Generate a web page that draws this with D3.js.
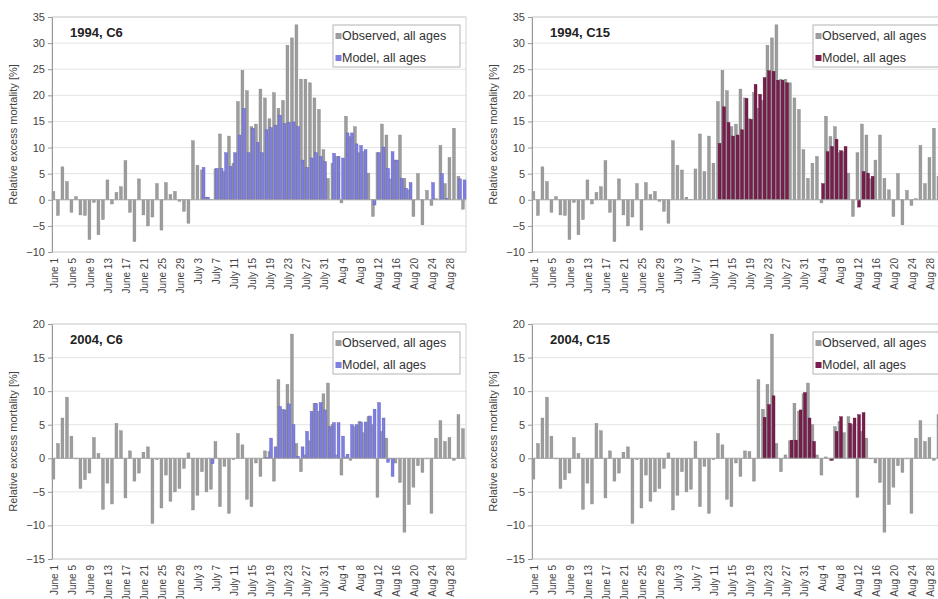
<!DOCTYPE html>
<html>
<head>
<meta charset="utf-8">
<script src="https://cdn.jsdelivr.net/npm/d3@7"></script>
<style>
  body { margin: 0; background: #fff; }
  svg { display: block; font-family: "Liberation Sans", Arial, sans-serif; }
</style>
</head>
<body>
<div id="chart"></div>
<script>
// Days run June 1 .. Aug 31 (92 days), a label on every 4th day
const tickLabels = [
  "June 1", "June 5", "June 9", "June 13", "June 17", "June 21", "June 25", "June 29",
  "July 3", "July 7", "July 11", "July 15", "July 19", "July 23", "July 27", "July 31",
  "Aug 4", "Aug 8", "Aug 12", "Aug 16", "Aug 20", "Aug 24", "Aug 28"
];
const dayCount = 92;
const _ = null;

// Observed excess mortality, all ages [%]
const observed1994 = [
  1.6, -3.0, 6.3, 3.5, -2.4, 0.6, -2.9, -3.0, -7.6, -0.5,
  -6.7, -3.8, 3.8, -0.8, 1.4, 2.5, 7.5, -2.4, -8.0, 4.0,
  -2.9, -5.0, -3.3, 3.1, -5.8, 3.3, 1.0, 1.6, -0.3, -2.2,
  -4.5, 11.3, 6.6, 5.7, 0.5, 0.1, 5.9, 12.6, 5.4, 12.2,
  7.0, 18.8, 24.8, 20.9, 14.0, 14.5, 21.2, 19.5, 15.5, 20.5,
  17.5, 19.0, 29.6, 31.0, 33.5, 23.1, 23.1, 22.4, 19.5, 17.3,
  9.6, 4.1, 7.0, 8.3, -0.6, 16.0, 12.1, 14.0, 9.0, 9.2,
  5.1, -3.2, 9.0, 14.5, 12.4, 4.0, 7.6, 12.4, 4.1, 1.9,
  -3.2, 5.0, -4.8, 1.8, -1.1, 0.2, 10.4, 3.1, 8.1, 13.7,
  4.5, -1.8
];
const observed2004 = [
  -3.1, 2.2, 6.0, 9.1, 3.3, -0.1, -4.5, -3.2, -2.2, 3.1,
  0.7, -7.6, -3.7, -6.8, 5.2, 4.1, -5.9, 1.1, -3.4, -2.2,
  0.9, 1.7, -9.7, -0.2, -7.4, -2.5, -6.4, -5.0, -4.5, -1.5,
  0.8, -7.7, -5.5, -2.0, -5.0, -4.6, 2.5, -7.2, -1.2, -8.2,
  -0.2, 3.7, 2.0, -6.1, -7.2, -0.7, -2.7, 1.1, 1.0, -3.4,
  11.7, 7.3, 11.0, 18.5, 2.2, -2.0, 0.5, 2.6, 8.2, 7.0,
  9.6, 11.2, 5.0, 0.5, -2.5, 0.2, -0.3, 4.7, 5.5, 3.8,
  6.2, 5.0, -5.8, 4.0, 3.0, -0.1, -0.7, -3.6, -11.0, -6.9,
  -4.3, -1.1, -2.1, -0.1, -8.2, 3.0, 5.6, 2.5, 3.1, -0.3,
  6.5, 4.4
];

// Model, all ages [%] (null = no model value that day)
const modelC6_1994 = [
  _, _, _, _, _, _, _, _, _, _,
  _, _, _, _, _, _, _, _, _, _,
  _, _, _, _, _, _, _, _, _, _,
  _, _, _, 6.2, 0.5, _, 6.0, 6.0, 9.0, 6.4,
  9.0, 12.4, 17.5, 9.0, 13.7, 11.0, 9.0, 13.4, 13.8, 14.3,
  16.2, 14.6, 14.8, 14.9, 14.0, 7.6, 6.2, 8.0, 9.0, 8.3,
  7.3, _, 8.9, 8.3, 8.0, 12.8, 12.8, 10.7, 10.4, 9.6,
  _, -1.0, 9.0, 10.1, 6.0, 9.2, 7.6, 4.1, 2.2, 3.3,
  _, _, _, _, 3.3, _, 5.0, 0.3, _, _,
  4.0, 3.8
];
const modelC15_1994 = [
  _, _, _, _, _, _, _, _, _, _,
  _, _, _, _, _, _, _, _, _, _,
  _, _, _, _, _, _, _, _, _, _,
  _, _, _, _, _, _, _, _, _, _,
  _, 10.8, 17.8, 14.8, 12.2, 12.4, 13.4, 19.4, 15.4, 22.1,
  20.2, 23.4, 24.7, 24.6, 22.9, 22.9, 22.4, _, _, _,
  _, _, _, _, 3.1, 9.2, 10.2, 11.6, 9.4, 10.2,
  _, _, -1.4, 5.4, 5.1, 4.5, _, _, _, _,
  _, _, _, _, _, _, _, _, _, _,
  _, _
];
const modelC6_2004 = [
  _, _, _, _, _, _, _, _, _, _,
  _, _, _, _, _, _, _, _, _, _,
  _, _, _, _, _, _, _, _, _, _,
  _, _, _, _, _, -0.8, _, _, _, _,
  _, _, _, _, _, _, _, 0.1, 3.0, 1.7,
  7.7, 7.2, 8.1, 5.0, 0.3, 1.7, 4.0, 7.0, 8.2, 8.3,
  7.2, 4.7, 5.3, 5.3, 3.3, 0.6, 5.0, 5.0, 5.4, 5.4,
  6.3, 7.3, 8.3, 6.0, -0.6, -2.7, _, _, _, _,
  _, _, _, _, _, _, _, _, _, _,
  _, _
];
const modelC15_2004 = [
  _, _, _, _, _, _, _, _, _, _,
  _, _, _, _, _, _, _, _, _, _,
  _, _, _, _, _, _, _, _, _, _,
  _, _, _, _, _, _, _, _, _, _,
  _, _, _, _, _, _, _, _, _, _,
  _, 6.1, 8.0, 9.3, _, _, _, 2.7, 2.7, 7.2,
  9.8, 6.0, 2.5, _, _, _, -0.3, 4.0, 6.2, _,
  5.2, 6.0, 6.5, 6.8, _, _, _, _, _, _,
  _, _, _, _, _, _, _, _, _, _,
  _, _
];

const yDomain1994 = [-10, 35];
const yDomain2004 = [-15, 20];

const obsColor = "#9d9d9d";
const c6Color = "#7f7fe2";
const c15Color = "#7a1d4e";

const panels = [
  { title: "1994, C6",  obs: observed1994, model: modelC6_1994,  color: c6Color,  stroke: "#5b5bb8", yd: yDomain1994, left: 52,  top: 17,  bottom: 252 },
  { title: "1994, C15", obs: observed1994, model: modelC15_1994, color: c15Color, stroke: "#561234", yd: yDomain1994, left: 532, top: 17,  bottom: 252 },
  { title: "2004, C6",  obs: observed2004, model: modelC6_2004,  color: c6Color,  stroke: "#5b5bb8", yd: yDomain2004, left: 52,  top: 324, bottom: 559 },
  { title: "2004, C15", obs: observed2004, model: modelC15_2004, color: c15Color, stroke: "#561234", yd: yDomain2004, left: 532, top: 324, bottom: 559 }
];

const width = 938, height = 599;
const plotW = 414;

const svg = d3.select("#chart")
  .append("svg")
  .attr("width", width)
  .attr("height", height)
  .style("background", "white");

panels.forEach(function(p) {
  const g = svg.append("g");

  const x = d3.scaleBand()
    .domain(d3.range(dayCount))
    .range([p.left, p.left + plotW])
    .padding(0);
  const bw = x.bandwidth();

  const y = d3.scaleLinear()
    .domain(p.yd)
    .range([p.bottom, p.top]);

  const ticks = d3.range(p.yd[0], p.yd[1] + 1, 5);

  // gridlines + frame
  g.selectAll(".grid")
    .data(ticks)
    .enter()
    .append("line")
    .attr("x1", p.left)
    .attr("x2", p.left + plotW)
    .attr("y1", d => y(d))
    .attr("y2", d => y(d))
    .attr("stroke", "#e4e4e4")
    .attr("stroke-width", 1);

  g.append("rect")
    .attr("x", p.left)
    .attr("y", p.top)
    .attr("width", plotW)
    .attr("height", p.bottom - p.top)
    .attr("fill", "none")
    .attr("stroke", "#d2d2d2");

  // observed bars (left part of each day)
  g.selectAll(".obs")
    .data(p.obs)
    .enter()
    .append("rect")
    .attr("x", (d, i) => x(i))
    .attr("y", d => y(Math.max(0, d)))
    .attr("width", bw * 0.64)
    .attr("height", d => Math.abs(y(d) - y(0)))
    .attr("fill", obsColor)
    .attr("stroke", "#858585")
    .attr("stroke-width", 0.4);

  // model bars, shifted right and drawn on top
  const modelData = p.model.map((v, i) => ({ i: i, v: v })).filter(d => d.v !== null);
  g.selectAll(".model")
    .data(modelData)
    .enter()
    .append("rect")
    .attr("x", d => x(d.i) + bw * 0.36)
    .attr("y", d => y(Math.max(0, d.v)))
    .attr("width", bw * 0.64)
    .attr("height", d => Math.abs(y(d.v) - y(0)))
    .attr("fill", p.color)
    .attr("stroke", p.stroke)
    .attr("stroke-width", 0.4);

  // zero line
  g.append("line")
    .attr("x1", p.left)
    .attr("x2", p.left + plotW)
    .attr("y1", y(0))
    .attr("y2", y(0))
    .attr("stroke", "#a8a8a8");

  // y axis
  const yaxis = g.append("g")
    .attr("transform", `translate(${p.left},0)`)
    .call(d3.axisLeft(y).tickValues(ticks).tickSize(4).tickSizeOuter(0).tickPadding(3));
  yaxis.select(".domain").attr("stroke", "#999");
  yaxis.selectAll(".tick line").attr("stroke", "#999");
  yaxis.selectAll("text")
    .attr("font-size", "11px")
    .attr("fill", "#444")
    .style("font-family", "'Liberation Sans', Arial, sans-serif");

  // rotated day labels
  tickLabels.forEach(function(lab, j) {
    const day = j * 4;
    const cx = x(day) + bw / 2;
    g.append("text")
      .attr("transform", `translate(${cx},${p.bottom + 6}) rotate(-90)`)
      .attr("text-anchor", "end")
      .attr("dy", "0.35em")
      .attr("font-size", "10px")
      .attr("fill", "#444")
      .text(lab);
  });

  // y title
  g.append("text")
    .attr("transform", `translate(${p.left - 35},${(p.top + p.bottom) / 2}) rotate(-90)`)
    .attr("text-anchor", "middle")
    .attr("font-size", "11px")
    .attr("fill", "#444")
    .text("Relative excess mortality [%]");

  // panel title
  g.append("text")
    .attr("x", p.left + 18)
    .attr("y", p.top + 20)
    .attr("font-size", "13px")
    .attr("font-weight", "bold")
    .attr("fill", "#222")
    .text(p.title);

  // legend
  const legend = g.append("g")
    .attr("transform", `translate(${p.left + 281},${p.top + 8})`);
  legend.append("rect")
    .attr("width", 127)
    .attr("height", 42)
    .attr("fill", "white")
    .attr("stroke", "#b4b4b4");

  const items = [
    { label: "Observed, all ages", color: obsColor },
    { label: "Model, all ages", color: p.color }
  ];
  items.forEach(function(it, k) {
    legend.append("rect")
      .attr("x", 2.5)
      .attr("y", 8 + k * 22)
      .attr("width", 6)
      .attr("height", 6)
      .attr("fill", it.color);
    legend.append("text")
      .attr("x", 9)
      .attr("y", 15 + k * 22)
      .attr("font-size", "12.5px")
      .attr("fill", "#333")
      .text(it.label);
  });
});
</script>
</body>
</html>
